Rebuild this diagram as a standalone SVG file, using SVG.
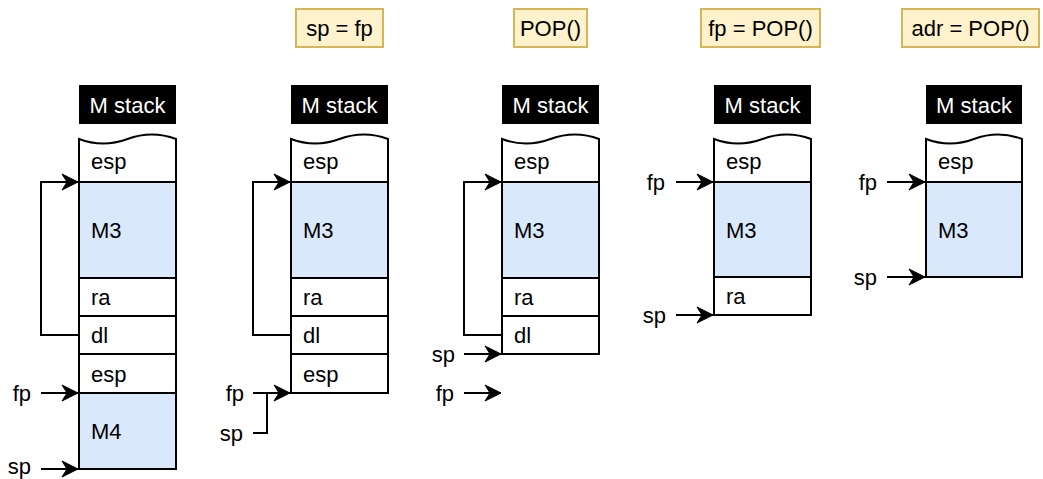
<svg xmlns="http://www.w3.org/2000/svg" width="1043" height="479" viewBox="0 0 1043 479">
  <defs>
    <marker id="arrow" markerUnits="userSpaceOnUse" markerWidth="20" markerHeight="20" viewBox="-18 -10 20 20" refX="0" refY="0" orient="auto">
      <path d="M-16,-8 L0,0 L-16,8 L-11,0 Z" fill="#000" stroke="#000" stroke-width="1" stroke-linejoin="miter"/>
    </marker>
  </defs>
  <style>
    text { font-family: "Liberation Sans", Arial, sans-serif; font-size: 22px; fill: #000; }
    .hdr rect { fill: #000; }
    .hdr text { fill: #fff; text-anchor: middle; }
    .op rect { fill: #fff2cc; stroke: #d6b656; stroke-width: 2; }
    .op text { text-anchor: middle; }
    .cell { fill: #fff; stroke: #000; stroke-width: 2; }
    .blue { fill: #dae8fc; stroke: #000; stroke-width: 2; }
    .lbl { text-anchor: end; }
    .conn path { fill: none; stroke: #000; stroke-width: 2; }
    .arr { marker-end: url(#arrow); }
  </style>

  <!-- operation captions -->
  <g id="op-sp-fp" class="op"><rect x="296" y="9" width="87" height="38"/><text x="339.5" y="36">sp = fp</text></g>
  <g id="op-pop" class="op"><rect x="514" y="9" width="73" height="38"/><text x="550.5" y="36">POP()</text></g>
  <g id="op-fp-pop" class="op"><rect x="701" y="9" width="119" height="38"/><text x="760.5" y="36">fp = POP()</text></g>
  <g id="op-adr-pop" class="op"><rect x="902" y="9" width="137" height="38"/><text x="970.5" y="36">adr = POP()</text></g>

  <!-- stack 1 -->
  <g id="stack1">
    <g class="hdr"><rect x="79" y="85" width="97" height="39"/><text x="127.5" y="112.5">M stack</text></g>
    <path class="cell" d="M79,182 L79,139 Q103,148 127.5,139 T176,139 L176,182 Z"/>
    <text x="91" y="168.5">esp</text>
    <rect class="blue" x="79" y="182" width="97" height="96"/><text x="91" y="238">M3</text>
    <rect class="cell" x="79" y="278" width="97" height="38"/><text x="91" y="305">ra</text>
    <rect class="cell" x="79" y="316" width="97" height="38"/><text x="91" y="343">dl</text>
    <rect class="cell" x="79" y="354" width="97" height="39"/><text x="91" y="381.5">esp</text>
    <rect class="blue" x="79" y="393" width="97" height="76"/><text x="91" y="439">M4</text>
    <text class="lbl" x="31" y="401">fp</text>
    <text class="lbl" x="31" y="474">sp</text>
  </g>

  <!-- stack 2 -->
  <g id="stack2">
    <g class="hdr"><rect x="291" y="85" width="97" height="39"/><text x="339.5" y="112.5">M stack</text></g>
    <path class="cell" d="M291,182 L291,139 Q315,148 339.5,139 T388,139 L388,182 Z"/>
    <text x="303" y="168.5">esp</text>
    <rect class="blue" x="291" y="182" width="97" height="96"/><text x="303" y="238">M3</text>
    <rect class="cell" x="291" y="278" width="97" height="38"/><text x="303" y="305">ra</text>
    <rect class="cell" x="291" y="316" width="97" height="38"/><text x="303" y="343">dl</text>
    <rect class="cell" x="291" y="354" width="97" height="39"/><text x="303" y="381.5">esp</text>
    <text class="lbl" x="244" y="401">fp</text>
    <text class="lbl" x="243" y="441">sp</text>
  </g>

  <!-- stack 3 -->
  <g id="stack3">
    <g class="hdr"><rect x="502" y="85" width="97" height="39"/><text x="550.5" y="112.5">M stack</text></g>
    <path class="cell" d="M502,182 L502,139 Q526,148 550.5,139 T599,139 L599,182 Z"/>
    <text x="514" y="168.5">esp</text>
    <rect class="blue" x="502" y="182" width="97" height="96"/><text x="514" y="238">M3</text>
    <rect class="cell" x="502" y="278" width="97" height="38"/><text x="514" y="305">ra</text>
    <rect class="cell" x="502" y="316" width="97" height="38"/><text x="514" y="343">dl</text>
    <text class="lbl" x="455" y="362">sp</text>
    <text class="lbl" x="454" y="401">fp</text>
  </g>

  <!-- stack 4 -->
  <g id="stack4">
    <g class="hdr"><rect x="714" y="85" width="97" height="39"/><text x="762.5" y="112.5">M stack</text></g>
    <path class="cell" d="M714,182 L714,139 Q738,148 762.5,139 T811,139 L811,182 Z"/>
    <text x="726" y="168.5">esp</text>
    <rect class="blue" x="714" y="182" width="97" height="95"/><text x="726" y="238">M3</text>
    <rect class="cell" x="714" y="277" width="97" height="38"/><text x="726" y="304">ra</text>
    <text class="lbl" x="665" y="190">fp</text>
    <text class="lbl" x="666" y="323">sp</text>
  </g>

  <!-- stack 5 -->
  <g id="stack5">
    <g class="hdr"><rect x="926" y="85" width="96" height="39"/><text x="974" y="112.5">M stack</text></g>
    <path class="cell" d="M926,182 L926,139 Q950,148 974,139 T1022,139 L1022,182 Z"/>
    <text x="938" y="168.5">esp</text>
    <rect class="blue" x="926" y="182" width="96" height="95"/><text x="938" y="238">M3</text>
    <text class="lbl" x="877" y="190">fp</text>
    <text class="lbl" x="877" y="285">sp</text>
  </g>

  <!-- pointers and dynamic links -->
  <g id="connectors" class="conn">
    <path class="arr" d="M79,335 L41,335 L41,182 L78,182"/>
    <path class="arr" d="M41,393 L78,393"/>
    <path class="arr" d="M41,469 L78,469"/>

    <path class="arr" d="M291,335 L253,335 L253,182 L290,182"/>
    <path class="arr" d="M253,393 L290,393"/>
    <path d="M253,433 L267,433 L267,393"/>

    <path class="arr" d="M502,335 L464,335 L464,182 L501,182"/>
    <path class="arr" d="M464,354 L501,354"/>
    <path class="arr" d="M464,393 L501,393"/>

    <path class="arr" d="M676,182 L713,182"/>
    <path class="arr" d="M676,315 L713,315"/>

    <path class="arr" d="M887,182 L925,182"/>
    <path class="arr" d="M887,277 L925,277"/>
  </g>
</svg>
